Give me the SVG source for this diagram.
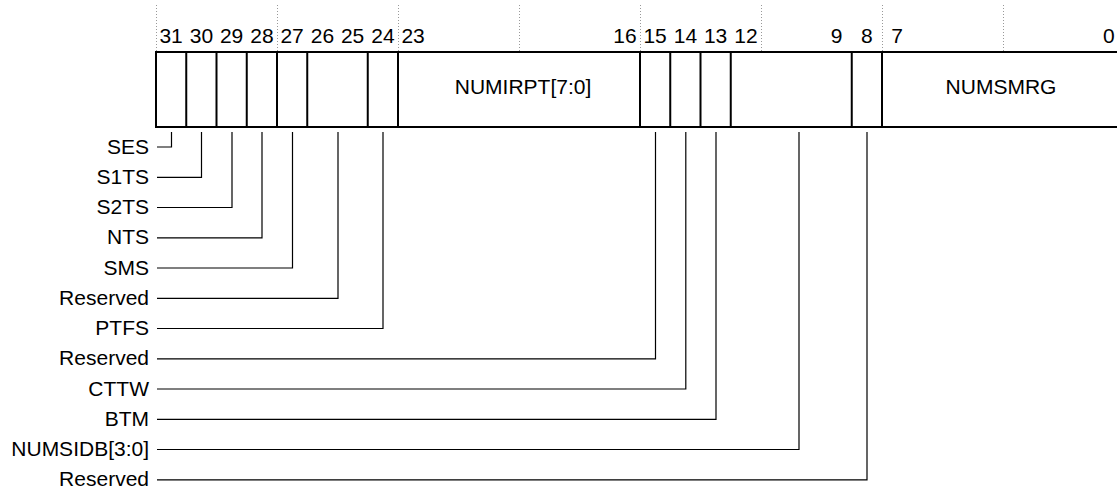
<svg xmlns="http://www.w3.org/2000/svg" width="1117" height="489" viewBox="0 0 1117 489">
<style>
text{font-family:"Liberation Sans",Arial,sans-serif;font-size:21px;fill:#000}
.bn{text-anchor:middle}
.lb{text-anchor:end}
.fl{text-anchor:middle}
.grid{stroke:#999;stroke-width:1;stroke-dasharray:1,2;fill:none}
.box{fill:#fff;stroke:#000;stroke-width:2}
.div{stroke:#000;stroke-width:2}
.con{fill:none;stroke:#000;stroke-width:1.2}
</style>
<rect width="1117" height="489" fill="#fff"/>
<g id="grid">
<path class="grid" d="M156.5,5V52M277.5,5V52M398.5,5V52M519.5,5V52M640.5,5V52M761.5,5V52M882.5,5V52M1003.5,5V52"/>
</g>
<g id="bitnumbers">
<text class="bn" x="171.1" y="43">31</text>
<text class="bn" x="201.4" y="43">30</text>
<text class="bn" x="231.6" y="43">29</text>
<text class="bn" x="261.9" y="43">28</text>
<text class="bn" x="292.1" y="43">27</text>
<text class="bn" x="322.4" y="43">26</text>
<text class="bn" x="352.6" y="43">25</text>
<text class="bn" x="382.9" y="43">24</text>
<text class="bn" x="413.1" y="43">23</text>
<text class="bn" x="624.9" y="43">16</text>
<text class="bn" x="655.1" y="43">15</text>
<text class="bn" x="685.4" y="43">14</text>
<text class="bn" x="715.6" y="43">13</text>
<text class="bn" x="745.9" y="43">12</text>
<text class="bn" x="836.6" y="43">9</text>
<text class="bn" x="866.9" y="43">8</text>
<text class="bn" x="897.1" y="43">7</text>
<text class="bn" x="1108.9" y="43">0</text>
</g>
<g id="register">
<rect class="box" x="156" y="52" width="968" height="75"/>
<path class="div" d="M186.25,52V127M216.5,52V127M246.75,52V127M277,52V127M307.25,52V127M367.75,52V127M398,52V127M640,52V127M670.25,52V127M700.5,52V127M730.75,52V127M851.75,52V127M882,52V127"/>
</g>
<g id="field-numirpt"><text class="fl" x="523" y="94">NUMIRPT[7:0]</text></g>
<g id="field-numsmrg"><text class="fl" x="1001" y="94">NUMSMRG</text></g>
<g id="connectors">
<path class="con" d="M171.5,132V147H157"/>
<path class="con" d="M201.5,132V177.3H157"/>
<path class="con" d="M232,132V207.5H157"/>
<path class="con" d="M262,132V237.8H157"/>
<path class="con" d="M292.5,132V268H157"/>
<path class="con" d="M338,132V298.3H157"/>
<path class="con" d="M383,132V328.5H157"/>
<path class="con" d="M655.5,132V358.8H157"/>
<path class="con" d="M685.8,132V389H157"/>
<path class="con" d="M716,132V419.3H157"/>
<path class="con" d="M799,132V449.5H157"/>
<path class="con" d="M867,132V479.8H157"/>
</g>
<g id="label-ses"><text class="lb" x="149" y="153.5">SES</text></g>
<g id="label-s1ts"><text class="lb" x="149" y="183.8">S1TS</text></g>
<g id="label-s2ts"><text class="lb" x="149" y="214">S2TS</text></g>
<g id="label-nts"><text class="lb" x="149" y="244.3">NTS</text></g>
<g id="label-sms"><text class="lb" x="149" y="274.5">SMS</text></g>
<g id="label-reserved-26"><text class="lb" x="149" y="304.8">Reserved</text></g>
<g id="label-ptfs"><text class="lb" x="149" y="335">PTFS</text></g>
<g id="label-reserved-15"><text class="lb" x="149" y="365.3">Reserved</text></g>
<g id="label-cttw"><text class="lb" x="149" y="395.5">CTTW</text></g>
<g id="label-btm"><text class="lb" x="149" y="425.8">BTM</text></g>
<g id="label-numsidb"><text class="lb" x="149" y="456">NUMSIDB[3:0]</text></g>
<g id="label-reserved-8"><text class="lb" x="149" y="486.3">Reserved</text></g>
</svg>
